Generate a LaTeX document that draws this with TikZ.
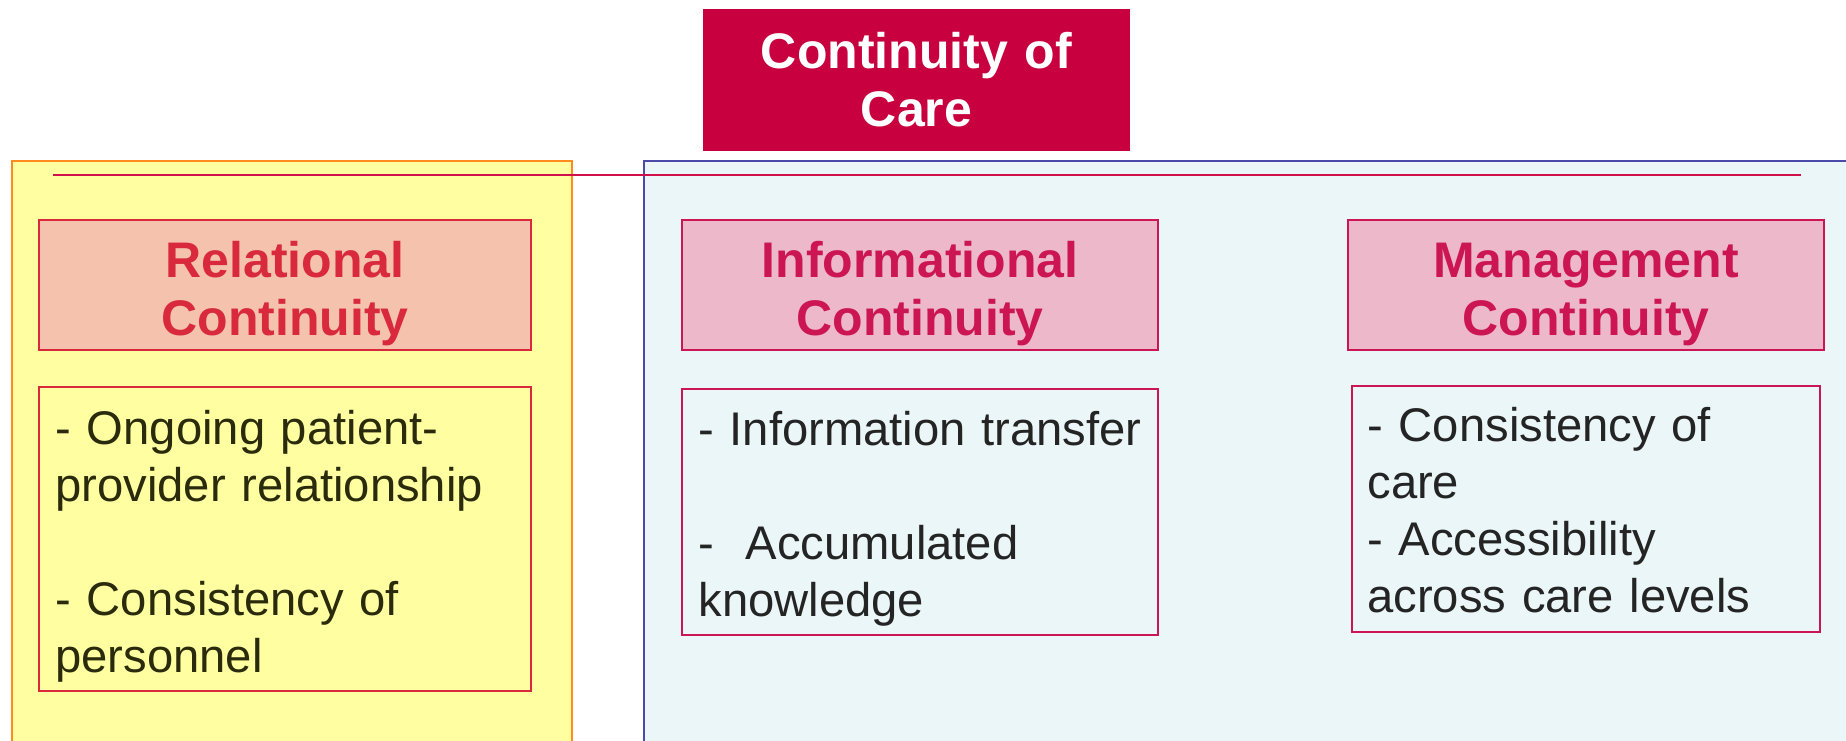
\documentclass[tikz,border=0pt]{standalone}
\usepackage{fontspec}
\setmainfont{Liberation Sans}
\usetikzlibrary{fit}

\definecolor{titlered}{HTML}{C8003F}
\definecolor{linered}{HTML}{D0104A}
\definecolor{panelyellow}{HTML}{FFFFA2}
\definecolor{panelblue}{HTML}{EAF6F7}
\definecolor{orangeedge}{HTML}{FF8A1E}
\definecolor{blueedge}{HTML}{4A4AA8}
\definecolor{relred}{HTML}{D82A3C}
\definecolor{relfill}{HTML}{F5C2AE}
\definecolor{crimson}{HTML}{CC1654}
\definecolor{pinkfill}{HTML}{EDB8CA}
\definecolor{olivetext}{HTML}{2A2A0C}
\definecolor{darktext}{HTML}{242424}

\begin{document}
\begin{tikzpicture}[x=0.5pt,y=-0.5pt,
  frame/.style={inner sep=0pt, line width=1pt},
  panelA/.style={frame, draw=orangeedge, fill=panelyellow},
  panelB/.style={frame, draw=blueedge, fill=panelblue},
  titlebox/.style={frame, fill=titlered},
  relhead/.style={frame, draw=relred, fill=relfill},
  relbody/.style={frame, draw=relred},
  cathead/.style={frame, draw=crimson, fill=pinkfill},
  catbody/.style={frame, draw=crimson},
  headtext/.style={inner sep=0pt, anchor=base, text width=230pt, align=center,
    font=\fontsize{25}{29}\selectfont\bfseries},
  bodytext/.style={inner sep=0pt, anchor=base west, text width=235pt, align=left,
    font=\fontsize{23.6}{28.5}\selectfont},
  divider/.style={draw=linered, line width=1pt}
]
\useasboundingbox (0,0) rectangle (1846,740);
\clip (0,0) rectangle (1846,740);

% two background panels running off the lower edge
\node[panelA, fit={(12,161) (572,760)}] (panelrel) {};
\node[panelB, fit={(644,161) (1866,760)}] (panelrest) {};

% title
\node[titlebox, fit={(703,9) (1130,151)}] (titlebg) {};
\node[headtext, text=white] (title) at (916.5,68) {Continuity of\\Care};

% divider line across both panels
\coordinate (divL) at (53,175);
\coordinate (divR) at (1801,175);
\draw[divider] (divL) -- (divR);

% relational continuity
\node[relhead, fit={(39,220) (531,350)}] (relh) {};
\node[headtext, text=relred] (relht) at (285,277) {Relational\\Continuity};
\node[relbody, fit={(39,387) (531,691)}] (relb) {};
\node[bodytext, text=olivetext] (relbt) at (55,444)
  {- Ongoing patient-\\provider relationship\\[28.5pt]- Consistency of\\personnel};

% informational continuity
\node[cathead, fit={(682,220) (1158,350)}] (infh) {};
\node[headtext, text=crimson] (infht) at (920,277) {Informational\\Continuity};
\node[catbody, fit={(682,389) (1158,635)}] (infb) {};
\node[bodytext, text=darktext] (infbt) at (698,445)
  {- Information transfer\\[28.5pt]-\ \ Accumulated\\knowledge};

% management continuity
\node[cathead, fit={(1348,220) (1824,350)}] (mgth) {};
\node[headtext, text=crimson] (mgtht) at (1586,277) {Management\\Continuity};
\node[catbody, fit={(1352,386) (1820,632)}] (mgtb) {};
\node[bodytext, text=darktext] (mgtbt) at (1367,441)
  {- Consistency of\\care\\- Accessibility\\across care levels};
\end{tikzpicture}
\end{document}
